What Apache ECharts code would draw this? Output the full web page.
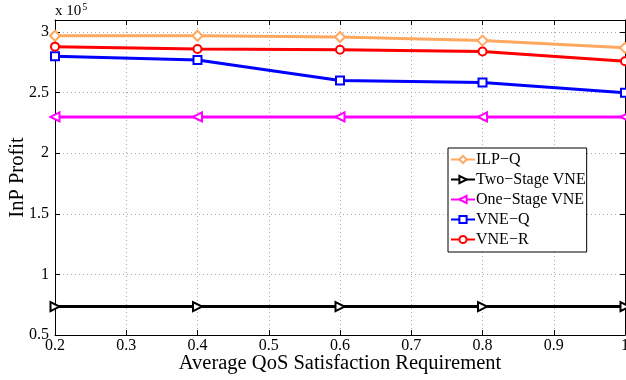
<!DOCTYPE html>
<html>
<head>
<meta charset="utf-8">
<script src="https://cdn.jsdelivr.net/npm/echarts@6/dist/echarts.min.js"></script>
<style>html,body{margin:0;padding:0;background:#fff}#c{width:626px;height:380px}</style>
</head>
<body>
<div id="c"></div>
<script>
const xValues = [0.2, 0.4, 0.6, 0.8, 1.0];
const ilpQ = [2.97, 2.97, 2.96, 2.93, 2.87];
const twoStage = [0.735, 0.735, 0.735, 0.735, 0.735];
const oneStage = [2.30, 2.30, 2.30, 2.30, 2.30];
const vneQ = [2.80, 2.77, 2.60, 2.585, 2.50];
const vneR = [2.88, 2.86, 2.855, 2.84, 2.76];
const seriesNames = ['ILP\u2212Q', 'Two\u2212Stage VNE', 'One\u2212Stage VNE', 'VNE\u2212Q', 'VNE\u2212R'];

const font = 'Liberation Serif';
const chart = echarts.init(document.getElementById('c'));
function mk(name, data, color, symbol, rotate) {
  return {
    name, type: 'line', data: xValues.map((x, i) => [x, data[i]]),
    symbol, symbolSize: symbol === 'diamond' ? 10 : (symbol === 'triangle' ? 9 : 8), symbolRotate: rotate || 0,
    showAllSymbol: true, clip: false,
    lineStyle: { color, width: 3 },
    itemStyle: { color: '#fff', borderColor: color, borderWidth: 2 },
    emphasis: { disabled: true }
  };
}
const axisLine = { show: true, lineStyle: { color: '#000', width: 1 } };
const tick = { show: true, inside: true, length: 5, lineStyle: { color: '#000' } };
chart.setOption({
  animation: false,
  grid: { left: 55, right: 1, top: 20, bottom: 45, outerBoundsMode: 'none', containLabel: false },
  xAxis: [{
    type: 'value', min: 0.2, max: 1, interval: 0.1,
    axisLine, axisTick: tick,
    axisLabel: { color: '#000', fontFamily: font, fontSize: 16, margin: 3, formatter: v => String(+v.toFixed(1)) },
    splitLine: { show: true, lineStyle: { color: '#aaa', type: [1, 3], width: 1 } },
    name: 'Average QoS Satisfaction Requirement', nameLocation: 'middle', nameGap: 18, nameMoveOverlap: false,
    nameTextStyle: { color: '#000', fontFamily: font, fontSize: 20.5 }
  }, {
    type: 'value', position: 'top', min: 0.2, max: 1, interval: 0.1,
    axisLine, axisTick: tick, axisLabel: { show: false }, splitLine: { show: false }
  }],
  yAxis: [{
    type: 'value', min: 0.5, max: 3.1, interval: 0.5,
    axisLine, axisTick: tick,
    axisLabel: { color: '#000', fontFamily: font, fontSize: 16, margin: 6,
      formatter: v => (Math.abs(v * 2 - Math.round(v * 2)) < 1e-6 ? String(+v.toFixed(1)) : '') },
    splitLine: { show: true, lineStyle: { color: '#aaa', type: [1, 3], width: 1 } },
    name: 'InP Profit', nameLocation: 'middle', nameGap: 27, nameRotate: 90, nameMoveOverlap: false,
    nameTextStyle: { color: '#000', fontFamily: font, fontSize: 20.5 }
  }, {
    type: 'value', position: 'right', min: 0.5, max: 3.1, interval: 0.5,
    axisLine, axisTick: tick, axisLabel: { show: false }, splitLine: { show: false }
  }],
  legend: {
    orient: 'vertical', left: 448, top: 148,
    backgroundColor: '#fff', borderColor: '#000', borderWidth: 1,
    padding: [3, 1, 4, 2], itemWidth: 24, itemHeight: 9, itemGap: 3,
    textStyle: { color: '#000', fontFamily: font, fontSize: 16, lineHeight: 17, padding: [0, 0, 0, -4] },
    data: seriesNames
  },
  graphic: [{
    type: 'text', left: 55, top: 2,
    style: { text: '{a|x 10}{b|5}', rich: { a: { fontFamily: font, fontSize: 15, fill: '#000' }, b: { fontFamily: font, fontSize: 10, fill: '#000', verticalAlign: 'top', padding: [0, 0, 8, 1] } } }
  }],
  series: [
    mk(seriesNames[0], ilpQ, '#FFA860', 'diamond'),
    mk(seriesNames[1], twoStage, '#000', 'triangle', -90),
    mk(seriesNames[2], oneStage, '#FF00FF', 'triangle', 90),
    mk(seriesNames[3], vneQ, '#0000FF', 'rect'),
    mk(seriesNames[4], vneR, '#FF0000', 'circle')
  ]
});
</script>
</body>
</html>
